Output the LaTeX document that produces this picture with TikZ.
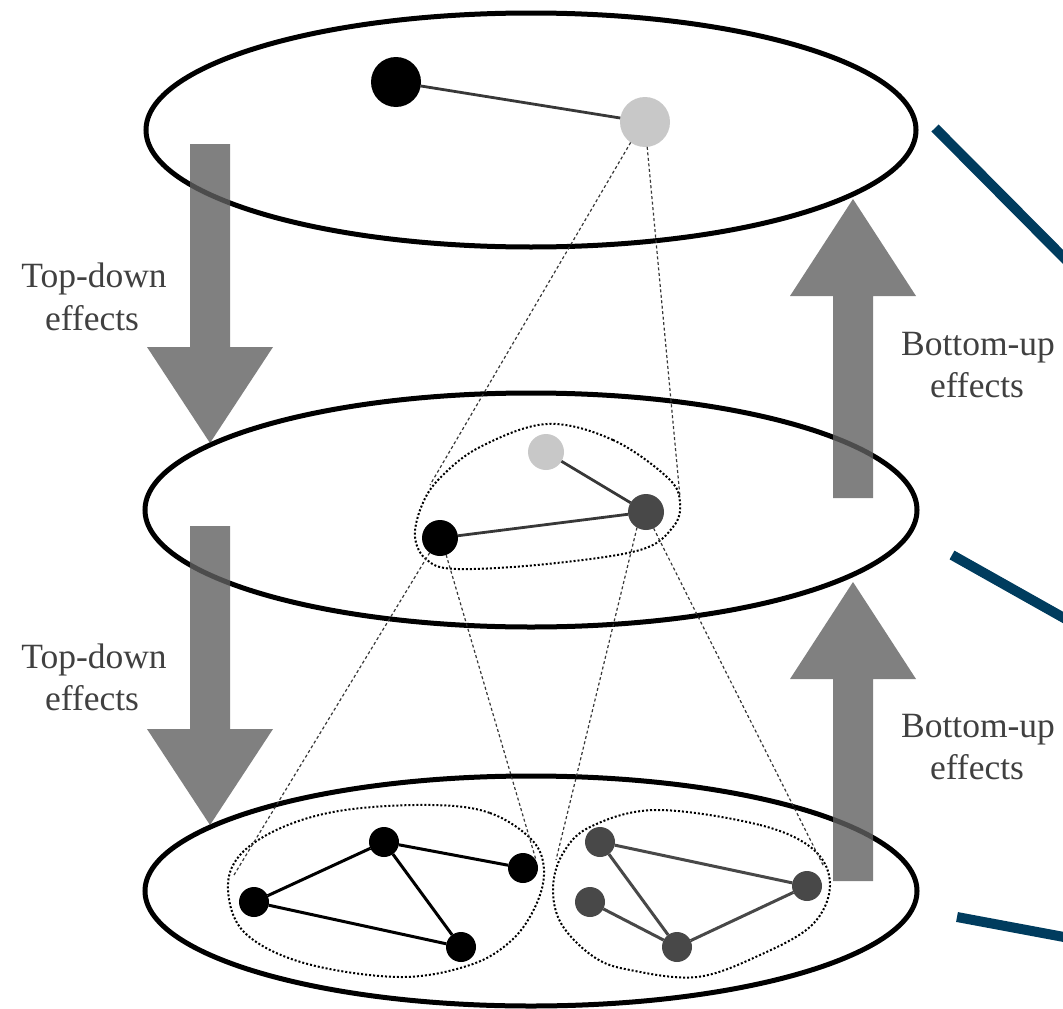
\documentclass[tikz,border=0pt]{standalone}
\usepackage{fontspec}
\setmainfont{Liberation Serif}
\usetikzlibrary{shapes.geometric}
\definecolor{bluish}{RGB}{0,60,94}
\definecolor{txtgray}{RGB}{64,64,64}
\definecolor{lightnode}{RGB}{200,200,200}
\definecolor{darknode}{RGB}{72,72,72}
\definecolor{edgegray}{RGB}{56,56,56}
\definecolor{arrgray}{RGB}{96,96,96}
\tikzset{
  layer/.style={draw=black, line width=5pt},
  vtx/.style={circle, inner sep=0pt, outer sep=0pt},
  topv/.style={vtx, minimum size=50pt},
  midv/.style={vtx, minimum size=36pt},
  botv/.style={vtx, minimum size=30pt},
  edgeline/.style={draw=edgegray, line width=2.8pt},
  coneline/.style={draw=edgegray, line width=1.2pt, dash pattern=on 3pt off 2.5pt},
  encl/.style={draw=black, line width=2pt, dash pattern=on 2pt off 2pt},
  arrowfill/.style={fill=arrgray, fill opacity=0.8},
  lbl/.style={font=\fontsize{35.5pt}{42pt}\selectfont, text=txtgray, anchor=base, inner sep=0pt},
  blueline/.style={draw=bluish, line width=10pt},
  downarrow/.pic={\fill[arrowfill] (-20,0) -- (20,0) -- (20,203) -- (63,203) -- (0,299) -- (-63,203) -- (-20,203) -- cycle;},
  uparrow/.pic={\fill[arrowfill] (0,0) -- (63,97) -- (20,97) -- (20,299) -- (-20,299) -- (-20,97) -- (-63,97) -- cycle;}
}
\begin{document}
\begin{tikzpicture}[x=1pt, y=-1pt]
\useasboundingbox (0,0) rectangle (1063,1009);
\clip (0,0) rectangle (1063,1009);

% layers
\draw[layer] (531,130) ellipse [x radius=385, y radius=117];
\draw[layer] (531,510) ellipse [x radius=386, y radius=117];
\draw[layer] (531,891) ellipse [x radius=386, y radius=115];

% blue lines
\coordinate (b1s) at (935,128); \coordinate (b1e) at (1080,274);
\coordinate (b2s) at (952,555); \coordinate (b2e) at (1080,627);
\coordinate (b3s) at (957,917); \coordinate (b3e) at (1080,940);
\draw[blueline] (b1s) -- (b1e);
\draw[blueline] (b2s) -- (b2e);
\draw[blueline] (b3s) -- (b3e);

% enclosures
\draw[encl] plot[smooth cycle, tension=0.6] coordinates {(547,424) (613,440) (668,478) (680,503) (673,527) (640,550) (547,564) (457,569) (427,560) (415,537) (422,505) (440,478) (480,447)};
\draw[encl] plot[smooth cycle, tension=0.6] coordinates {(432,805) (490,813) (532,840) (544,870) (536,905) (512,940) (470,965) (399,977) (304,963) (245,933) (228,890) (240,855) (283,827) (345,810)};
\draw[encl] plot[smooth cycle, tension=0.6] coordinates {(656,810) (760,825) (814,850) (830,886) (812,925) (760,955) (697,977) (630,970) (594,957) (562,925) (553,890) (562,855) (590,827)};

% cone anchors
\coordinate (c1a) at (430,485);
\coordinate (c1b) at (680,497);
\coordinate (c2a) at (234,875);
\coordinate (c2b) at (536,860);
\coordinate (c3a) at (556,860);
\coordinate (c3b) at (824,867);

% top level graph
\node[topv, fill=black] (t1) at (396,82) {};
\node[topv, fill=lightnode] (t2) at (645,122) {};
\draw[edgeline] (t1) -- (t2);

% middle level graph
\node[midv, fill=lightnode] (m1) at (546,452) {};
\node[midv, fill=darknode] (m2) at (646,512) {};
\node[midv, fill=black] (m3) at (440,538) {};
\draw[edgeline] (m1) -- (m2);
\draw[edgeline] (m3) -- (m2);

% bottom level graphs
\node[botv, fill=black] (a1) at (384,842) {};
\node[botv, fill=black] (a2) at (523,868) {};
\node[botv, fill=black] (a3) at (254,902) {};
\node[botv, fill=black] (a4) at (461,947) {};
\draw[draw=black, line width=3pt] (a3) -- (a1) (a1) -- (a2) (a1) -- (a4) (a3) -- (a4);
\node[botv, fill=darknode] (g1) at (600,842) {};
\node[botv, fill=darknode] (g2) at (590,902) {};
\node[botv, fill=darknode] (g3) at (677,947) {};
\node[botv, fill=darknode] (g4) at (807,886) {};
\draw[draw=darknode, line width=3pt] (g1) -- (g4) (g1) -- (g3) (g2) -- (g3) (g3) -- (g4);

% cone lines
\draw[coneline] (t2.235) -- (c1a);
\draw[coneline] (t2.275) -- (c1b);
\draw[coneline] (m3.235) -- (c2a);
\draw[coneline] (m3.290) -- (c2b);
\draw[coneline] (m2.240) -- (c3a);
\draw[coneline] (m2.295) -- (c3b);

% arrows
\pic at (210,144) {downarrow};
\pic at (210,526) {downarrow};
\pic at (853,199) {uparrow};
\pic at (853,582) {uparrow};

% labels
\node[lbl] (td1a) at (94,287) {Top-down};
\node[lbl] (td1b) at (92,330) {effects};
\node[lbl] (td2a) at (94,668) {Top-down};
\node[lbl] (td2b) at (92,710) {effects};
\node[lbl] (bu1a) at (978,355) {Bottom-up};
\node[lbl] (bu1b) at (977,397) {effects};
\node[lbl] (bu2a) at (978,737) {Bottom-up};
\node[lbl] (bu2b) at (977,779) {effects};
\end{tikzpicture}
\end{document}
